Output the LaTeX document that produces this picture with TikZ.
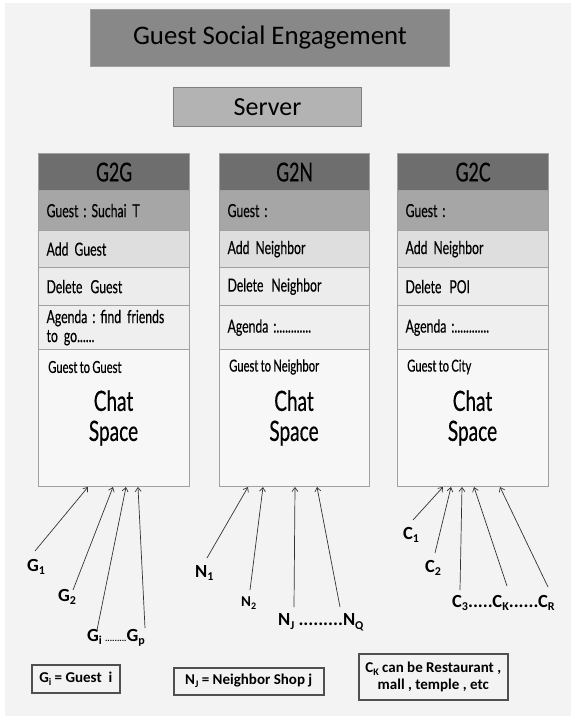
\documentclass[tikz,border=0pt]{standalone}
\usepackage{fontspec}
\setmainfont{Carlito}
\newfontfamily\agency[FakeStretch=0.68, WordSpace=0.8, FakeBold=0.4]{Lato}
\usetikzlibrary{arrows.meta}
\definecolor{bgc}{HTML}{F3F3F3}
\definecolor{titlec}{HTML}{888888}
\definecolor{serverc}{HTML}{B3B3B3}
\definecolor{hdc}{HTML}{6E6E6E}
\definecolor{gsc}{HTML}{A6A6A6}
\definecolor{adc}{HTML}{DEDEDE}
\definecolor{dlc}{HTML}{ECECEC}
\definecolor{agc}{HTML}{EFEFEF}
\definecolor{chc}{HTML}{F7F7F7}
\definecolor{linec}{HTML}{A0A0A0}
\definecolor{arrc}{HTML}{333333}
\definecolor{keyc}{HTML}{505050}
\newcommand\lsub[2][12]{\raisebox{-0.2em}{\fontsize{#1}{#1}\selectfont #2}}
\begin{document}
\begin{tikzpicture}[x=1pt,y=-1pt,
  topbox/.style={draw=linec, line width=1pt, anchor=north west, inner sep=0pt},
  row/.style={draw=linec, line width=1.2pt, anchor=north west, inner xsep=8pt, inner ysep=0pt, align=left,
    font=\agency\fontsize{18}{19}\selectfont},
  lbl/.style={anchor=west, inner sep=0pt, font=\bfseries\fontsize{18.5}{18}\selectfont},
  keybox/.style={draw=keyc, line width=1.5pt, anchor=north west, inner sep=2pt, align=center,
    font=\bfseries\fontsize{15}{17}\selectfont},
  conn/.style={draw=arrc, line width=0.7pt, -{Straight Barb[length=4pt,width=6pt]}}]
\useasboundingbox (0,0) rectangle (576,722);
\fill[white] (0,0) rectangle (576,722);
\fill[bgc] (5,3) rectangle (571,716);

\node[topbox, fill=titlec, minimum width=359, minimum height=57,
  font=\fontsize{26.8}{30}\selectfont] (title) at (90,9) {Guest Social Engagement};
\node[topbox, draw=gray, fill=serverc, minimum width=188, minimum height=39,
  font=\fontsize{26}{28}\selectfont] (server) at (173,87) {Server};

\foreach \n/\x/\w/\hd/\gs/\ad/\dl/\ag/\ct in {
  a/38/151/G2G/{Guest\kern-1pt\ :\kern-1pt\ Suchai T}/{Add Guest}/{Delete\kern2pt\ Guest}/{Agenda\kern-1pt\ :\kern-1pt\ find friends\\to go......}/{Guest to Guest},
  b/219/150/G2N/{Guest\kern-1pt\ :}/{Add Neighbor}/{Delete\kern2pt\ Neighbor}/{Agenda\kern-1pt\ :............}/{Guest to Neighbor},
  c/397/151/G2C/{Guest\kern-1pt\ :}/{Add Neighbor}/{Delete\kern2pt\ POI}/{Agenda\kern-1pt\ :............}/{Guest to City}}{
  \pgfmathsetmacro\tw{\w-16}
  \node[row, fill=hdc, minimum height=37, text width=\tw pt, align=center,
    font=\agency\fontsize{26}{28}\selectfont] (\n h) at (\x,153) {\hd};
  \node[row, fill=gsc, minimum height=40, text width=\tw pt] (\n g) at (\x,190) {\gs};
  \node[row, fill=adc, minimum height=37, text width=\tw pt] (\n a) at (\x,230) {\ad};
  \node[row, fill=dlc, minimum height=38, text width=\tw pt] (\n d) at (\x,267) {\dl};
  \node[row, fill=agc, minimum height=44, text width=\tw pt] (\n ag) at (\x,305) {\ag};
  \node[row, fill=chc, minimum height=137, text width=\tw pt] (\n c) at (\x,349) {};
  \node[anchor=west, inner sep=0pt, font=\agency\fontsize{16.5}{18}\selectfont] (\n ct) at (\x+10,367) {\ct};
  \node[align=center, inner sep=0pt, font=\agency\fontsize{28}{30}\selectfont] (\n cs) at (\x+\w/2,418) {Chat\\Space};
}

% labels
\node[lbl] (g1) at (27,567) {G\lsub{1}};
\node[lbl] (g2) at (58,597) {G\lsub{2}};
\node[lbl] (gi) at (87,638) {G\lsub{i}\,{\fontsize{9}{9}\selectfont .........}G\lsub{p}};
\node[lbl] (n1) at (195,573) {N\lsub{1}};
\node[lbl, font=\bfseries\fontsize{15}{15}\selectfont] (n2) at (241,603) {N\lsub[10]{2}};
\node[lbl] (nj) at (278,622) {N\lsub{J} .........N\lsub{Q}};
\node[lbl] (c1) at (403,535) {C\lsub{1}};
\node[lbl] (c2) at (425,568) {C\lsub{2}};
\node[lbl] (c3) at (452,603) {C\lsub{3}.....C\lsub{K}......C\lsub{R}};

% connector ends
\foreach \p/\tx/\ty/\hx in {
  ga/35/551/88, gb/73/590/113, gc/97/630/126, gd/145/628/138,
  na/207/558/248, nb/250/590/263, nc/294/607/295, nd/340/607/317,
  ca/413/520/443, cb/435/553/451, cc/460/590/462, cd/507/586/474, ce/548/587/500}{
  \coordinate (\p t) at (\tx,\ty);
  \coordinate (\p h) at (\hx,487);
  \draw[conn] (\p t) -- (\p h);
}

% key boxes
\node[keybox, minimum width=88, minimum height=28] (kg) at (31,664) {G\lsub[10]{i} = Guest\ \ i};
\node[keybox, minimum width=150, minimum height=27] (kn) at (173,667) {N\lsub[10]{J} = Neighbor Shop j};
\node[keybox, minimum width=149, minimum height=46] (kc) at (358,653) {C\lsub[10]{K} can be Restaurant ,\\mall , temple , etc};
\end{tikzpicture}
\end{document}
